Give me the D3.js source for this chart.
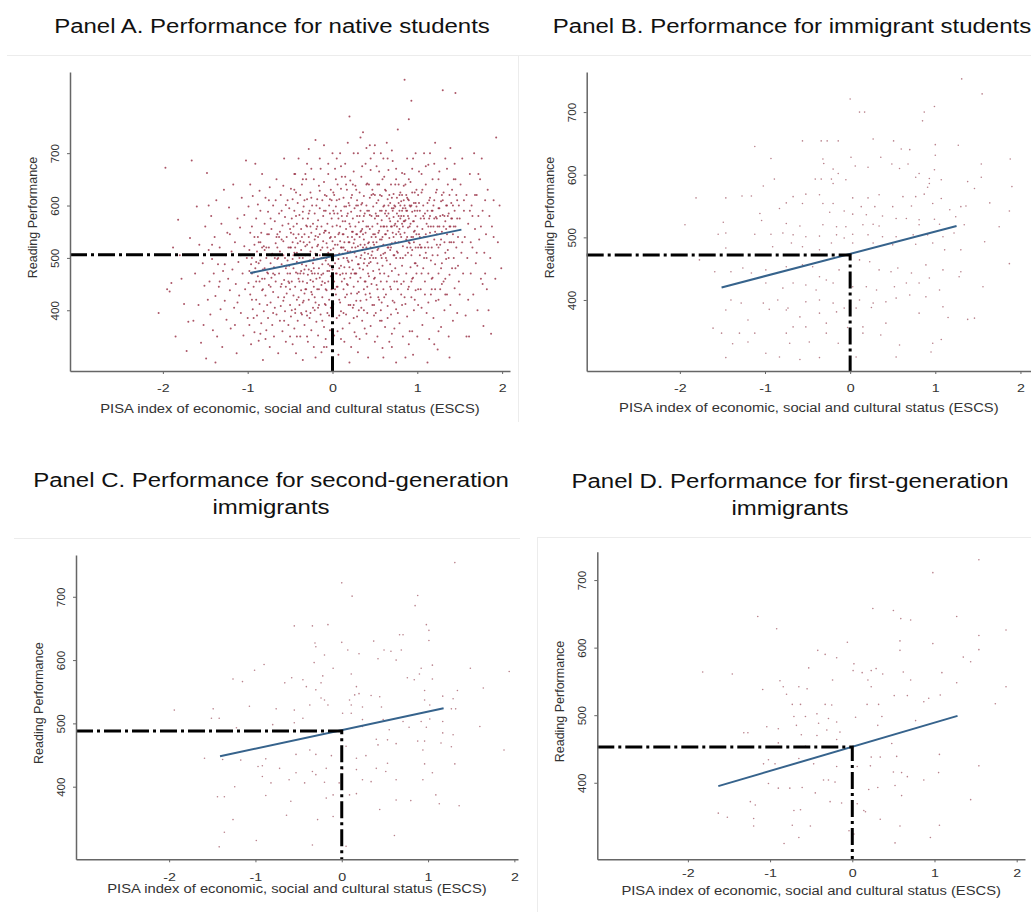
<!DOCTYPE html>
<html>
<head>
<meta charset="utf-8">
<script src="https://cdn.jsdelivr.net/npm/d3@7"></script>
<style>
body { margin: 0; background: #fff; }
svg { display: block; }
text { font-family: "Liberation Sans", Arial, sans-serif; }
</style>
</head>
<body>
<div id="chart"></div>
<script>
// ---- data ----
var panelTitles = [
    ["Panel A. Performance for native students"],
    ["Panel B. Performance for immigrant students"],
    ["Panel C. Performance for second-generation", "immigrants"],
    ["Panel D. Performance for first-generation", "immigrants"]
];
var xLabel = "PISA index of economic, social and cultural status (ESCS)";
var yLabel = "Reading Performance";
var xTicks = [-2, -1, 0, 1, 2];
var yTicks = [400, 500, 600, 700];
var meanScore = [506, 472, 488, 453];
var fitLines = [
    [[-0.97, 471], [1.52, 554]],
    [[-1.51, 420], [1.25, 518]],
    [[-1.41, 448], [1.18, 524]],
    [[-1.63, 395], [1.28, 499]]
];

var nativePts = [
[-2.05,395],[-1.97,672],[-1.95,440],[-1.92,436],[-1.9,452],[-1.88,520],[-1.85,350],[-1.82,573],[-1.8,505],[-1.78,460],[-1.75,412],[-1.72,322],[-1.7,378],[-1.68,538],[-1.66,686],[-1.64,380],[-1.62,470],[-1.6,598],[-1.58,410],[-1.57,525],[-1.55,338],[-1.53,490],[-1.52,372],[-1.51,447],[-1.5,560],
[-1.49,308],[-1.48,662],[-1.47,420],[-1.46,515],[-1.45,455],[-1.44,392],[-1.43,580],[-1.42,498],[-1.41,362],[-1.4,470],[-1.39,540],[-1.38,427],[-1.37,610],[-1.36,350],[-1.35,488],[-1.34,445],[-1.33,520],[-1.32,402],[-1.31,565],[-1.3,330],[-1.29,475],[-1.28,630],[-1.27,418],[-1.26,505],[-1.25,382],[-1.24,548],[-1.23,460],[-1.22,596],[-1.21,438],[-1.2,365],[-1.19,512],[-1.18,478],[-1.17,640],[-1.16,405],[-1.15,530],[-1.14,450],[-1.13,318],[-1.12,575],[-1.11,492],[-1.1,428],[-1.09,558],[-1.08,395],[-1.07,615],[-1.06,470],[-1.05,352],[-1.04,522],[-1.03,440],[-1.02,686],[-1.01,500],[-1.0,385],[-1.46,600],[-1.38,300],[-1.33,455],[-1.21,545],[-1.15,372],[-1.08,505],[-1.04,582],[-1.27,488],[-1.12,415],[-1.42,525],
[-0.99,452],[-0.99,598],[-0.98,372],[-0.98,515],[-0.97,640],[-0.97,430],[-0.96,488],[-0.96,335],[-0.95,560],[-0.95,470],[-0.94,402],[-0.94,618],[-0.93,505],[-0.93,445],[-0.92,358],[-0.92,540],[-0.91,680],[-0.91,480],[-0.9,420],[-0.9,575],[-0.89,390],[-0.89,512],[-0.88,465],[-0.88,602],[-0.87,342],[-0.87,530],[-0.86,455],[-0.86,412],[-0.85,590],[-0.85,495],[-0.84,375],[-0.84,548],[-0.83,438],[-0.83,660],[-0.82,478],[-0.82,305],[-0.81,522],[-0.81,398],[-0.8,565],[-0.8,460],[-0.79,428],[-0.79,615],[-0.78,500],[-0.78,362],[-0.77,545],[-0.77,472],[-0.76,385],[-0.76,588],[-0.75,448],[-0.75,520],[-0.74,330],[-0.74,635],[-0.73,490],[-0.73,415],[-0.72,555],[-0.72,462],[-0.71,372],[-0.71,508],[-0.7,600],[-0.7,435],[-0.69,482],[-0.69,350],[-0.68,570],[-0.68,405],[-0.67,528],[-0.67,455],[-0.66,650],[-0.66,392],[-0.65,498],[-0.65,545],[-0.64,425],[-0.64,318],[-0.63,585],[-0.63,470],[-0.62,512],[-0.62,380],[-0.61,620],[-0.61,445],[-0.6,535],[-0.6,488],[-0.59,360],[-0.59,562],[-0.58,418],[-0.58,505],[-0.57,690],[-0.57,458],[-0.56,398],[-0.56,578],[-0.55,480],[-0.55,340],[-0.54,540],[-0.54,432],[-0.53,610],[-0.53,495],[-0.52,372],[-0.52,520],[-0.51,452],[-0.51,595],[-0.5,410],[-0.5,555],
[-0.97,548],[-0.93,385],[-0.9,492],[-0.86,628],[-0.83,520],[-0.79,345],[-0.76,470],[-0.73,575],[-0.7,395],[-0.67,610],[-0.64,500],[-0.61,408],[-0.58,638],[-0.55,445],[-0.52,565],[-0.88,540],[-0.82,440],[-0.75,610],[-0.68,468],[-0.62,550],[-0.57,380],[-0.53,470],[-0.95,420],[-0.85,355],[-0.72,505],[-0.66,540],[-0.6,590],[-0.54,485],[-0.8,515],[-0.77,410],
[-0.5,470],[-0.49,632],[-0.49,388],[-0.49,520],[-0.48,455],[-0.48,575],[-0.47,335],[-0.47,498],[-0.47,612],[-0.46,428],[-0.46,545],[-0.46,480],[-0.45,365],[-0.45,590],[-0.45,510],[-0.44,445],[-0.44,660],[-0.44,402],[-0.43,538],[-0.43,472],[-0.43,318],[-0.42,565],[-0.42,492],[-0.42,420],[-0.41,605],[-0.41,380],[-0.41,528],[-0.4,460],[-0.4,545],[-0.4,690],[-0.39,410],[-0.39,500],[-0.39,582],[-0.38,350],[-0.38,470],[-0.38,620],[-0.37,438],[-0.37,555],[-0.37,515],[-0.36,392],[-0.36,488],[-0.36,640],[-0.35,455],[-0.35,575],[-0.35,305],[-0.34,530],[-0.34,418],[-0.34,598],[-0.33,478],[-0.33,372],[-0.33,545],[-0.32,505],[-0.32,660],[-0.32,440],[-0.31,562],[-0.31,398],[-0.31,485],[-0.3,612],[-0.3,452],[-0.3,525],[-0.29,340],[-0.29,575],[-0.29,468],[-0.28,420],[-0.28,540],[-0.28,708],[-0.27,495],[-0.27,385],[-0.27,590],[-0.26,458],[-0.26,625],[-0.26,512],[-0.25,362],[-0.25,548],[-0.25,475],[-0.24,430],[-0.24,600],[-0.24,520],[-0.23,405],[-0.23,565],[-0.23,490],[-0.22,650],[-0.22,445],[-0.22,330],[-0.21,535],[-0.21,470],[-0.21,585],[-0.2,415],[-0.2,508],[-0.2,725],[-0.19,460],[-0.19,555],[-0.19,378],[-0.18,612],[-0.18,498],[-0.18,440],[-0.17,572],[-0.17,352],[-0.17,525],[-0.16,480],[-0.16,638],[-0.16,410],[-0.15,545],[-0.15,462],[-0.15,595],[-0.14,392],[-0.14,515],[-0.14,670],[-0.13,448],[-0.13,560],[-0.13,320],[-0.12,488],[-0.12,610],[-0.12,425],[-0.11,532],[-0.11,470],[-0.11,580],[-0.1,368],[-0.1,505],[-0.1,645],[-0.09,452],[-0.09,552],[-0.09,412],[-0.08,590],[-0.08,495],[-0.08,345],[-0.07,528],[-0.07,438],[-0.07,618],[-0.06,475],[-0.06,565],[-0.06,395],[-0.05,510],[-0.05,680],[-0.05,455],[-0.04,548],[-0.04,420],[-0.04,600],[-0.03,485],[-0.03,362],[-0.03,538],[-0.02,465],[-0.02,630],[-0.02,405],[-0.01,575],[-0.01,500],[-0.01,440],
[-0.48,400],[-0.45,630],[-0.42,350],[-0.39,455],[-0.36,540],[-0.33,610],[-0.3,390],[-0.27,530],[-0.24,470],[-0.21,400],[-0.18,560],[-0.15,505],[-0.12,380],[-0.09,620],[-0.06,520],[-0.03,585],[-0.46,560],[-0.4,505],[-0.34,470],[-0.28,585],[-0.22,500],[-0.16,440],[-0.1,548],[-0.04,475],[-0.44,520],[-0.37,395],[-0.31,650],[-0.25,435],[-0.19,600],[-0.13,500],[-0.07,330],[-0.02,540],[-0.5,520],[-0.43,580],[-0.35,500],[-0.26,560],[-0.17,470],[-0.08,440],[-0.01,610],
[0.0,478],[0.0,560],[0.01,412],[0.01,625],[0.01,518],[0.02,455],[0.02,585],[0.02,352],[0.03,540],[0.03,490],[0.03,670],[0.04,430],[0.04,598],[0.04,505],[0.05,385],[0.05,562],[0.05,470],[0.06,640],[0.06,525],[0.06,445],[0.07,575],[0.07,315],[0.07,498],[0.08,612],[0.08,420],[0.08,548],[0.09,468],[0.09,700],[0.09,532],[0.1,398],[0.1,590],[0.1,485],[0.11,455],[0.11,655],[0.11,520],[0.12,365],[0.12,570],[0.12,508],[0.13,440],[0.13,615],[0.13,545],[0.14,482],[0.14,340],[0.14,598],[0.15,515],[0.15,425],[0.15,680],[0.16,555],[0.16,470],[0.16,392],[0.17,630],[0.17,500],[0.17,580],[0.18,448],[0.18,540],[0.18,720],[0.19,410],[0.19,605],[0.19,492],[0.2,565],[0.2,375],[0.2,530],[0.21,462],[0.21,648],[0.21,512],[0.22,588],[0.22,432],[0.22,330],[0.23,550],[0.23,495],[0.23,620],[0.24,405],[0.24,575],[0.24,478],[0.25,665],[0.25,528],[0.25,445],[0.26,595],[0.26,358],[0.26,510],[0.27,560],[0.27,470],[0.27,638],[0.28,418],[0.28,545],[0.28,502],[0.29,610],[0.29,388],[0.29,580],[0.3,455],[0.3,700],[0.3,522],[0.31,568],[0.31,435],[0.31,488],[0.32,625],[0.32,345],[0.32,540],[0.33,500],[0.33,590],[0.33,462],[0.34,405],[0.34,655],[0.34,552],[0.35,515],[0.35,380],[0.35,605],[0.36,478],[0.36,570],[0.36,740],[0.37,440],[0.37,535],[0.37,618],[0.38,498],[0.38,365],[0.38,585],[0.39,455],[0.39,548],[0.39,680],[0.4,520],[0.4,420],[0.4,600],[0.41,485],[0.41,642],[0.41,395],[0.42,560],[0.42,508],[0.42,310],[0.43,590],[0.43,465],[0.43,530],[0.44,432],[0.44,615],[0.44,555],[0.45,492],[0.45,370],[0.45,668],[0.46,540],[0.46,450],[0.46,580],[0.47,512],[0.47,410],[0.47,630],[0.48,475],[0.48,598],[0.48,545],[0.49,390],[0.49,525],[0.49,700],
[0.02,505],[0.05,610],[0.08,390],[0.11,580],[0.14,530],[0.17,450],[0.2,600],[0.23,520],[0.26,470],[0.29,545],[0.32,480],[0.35,555],[0.38,525],[0.41,590],[0.44,500],[0.47,560],[0.03,440],[0.07,545],[0.12,470],[0.16,640],[0.21,560],[0.25,410],[0.3,600],[0.34,505],[0.39,430],[0.43,640],[0.48,500],[0.04,650],[0.09,560],[0.13,500],[0.18,585],[0.22,470],[0.27,520],[0.31,400],[0.36,520],[0.4,560],[0.45,520],[0.49,460],[0.06,360],[0.15,570],[0.24,640],[0.33,550],[0.42,470],[0.1,520],[0.19,530],[0.28,600],[0.37,580],[0.46,620],[0.01,590],[0.28,350],[0.37,490],[0.2,770],[0.44,715],[0.33,730],
[0.5,545],[0.5,462],[0.5,620],[0.51,500],[0.51,395],[0.51,585],[0.52,530],[0.52,675],[0.52,448],[0.53,565],[0.53,490],[0.53,350],[0.54,610],[0.54,518],[0.54,425],[0.55,552],[0.55,640],[0.55,478],[0.56,590],[0.56,380],[0.56,535],[0.57,505],[0.57,700],[0.57,455],[0.58,572],[0.58,415],[0.58,618],[0.59,540],[0.59,485],[0.59,328],[0.6,598],[0.6,525],[0.6,440],[0.61,655],[0.61,560],[0.61,470],[0.62,510],[0.62,585],[0.62,368],[0.63,545],[0.63,628],[0.63,430],[0.64,495],[0.64,580],[0.64,720],[0.65,552],[0.65,408],[0.65,612],[0.66,520],[0.66,465],[0.66,668],[0.67,575],[0.67,340],[0.67,538],[0.68,605],[0.68,488],[0.68,445],[0.69,560],[0.69,640],[0.69,392],[0.7,528],[0.7,595],[0.7,475],[0.71,685],[0.71,548],[0.71,418],[0.72,578],[0.72,505],[0.72,622],[0.73,455],[0.73,562],[0.73,365],[0.74,598],[0.74,530],[0.74,480],[0.75,650],[0.75,545],[0.75,402],[0.76,585],[0.76,512],[0.76,615],[0.77,440],[0.77,570],[0.77,745],[0.78,530],[0.78,605],[0.78,468],[0.79,590],[0.79,375],[0.79,555],[0.8,625],[0.8,500],[0.8,575],[0.81,430],[0.81,608],[0.81,540],[0.82,565],[0.82,662],[0.82,485],[0.83,595],[0.83,350],[0.83,522],[0.84,580],[0.84,455],[0.84,638],[0.85,548],[0.85,840],[0.85,600],[0.86,505],[0.86,412],[0.86,572],[0.87,620],[0.87,535],[0.87,470],[0.88,590],[0.88,690],[0.88,388],[0.89,558],[0.89,510],[0.89,612],[0.9,445],[0.9,575],[0.9,765],[0.91,528],[0.91,600],[0.91,360],[0.92,565],[0.92,482],[0.92,645],[0.93,800],[0.93,540],[0.93,425],[0.94,588],[0.94,515],[0.94,670],[0.95,462],[0.95,570],[0.95,315],[0.96,605],[0.96,530],[0.96,400],[0.97,552],[0.97,625],[0.97,490],[0.98,580],[0.98,438],[0.98,700],[0.99,545],[0.99,598],[0.99,470],
[0.52,580],[0.55,420],[0.58,500],[0.61,600],[0.64,455],[0.67,620],[0.7,560],[0.73,600],[0.76,455],[0.79,620],[0.82,590],[0.85,570],[0.88,540],[0.91,560],[0.94,460],[0.97,590],[0.53,640],[0.57,560],[0.62,545],[0.66,585],[0.71,590],[0.75,500],[0.8,545],[0.84,610],[0.89,580],[0.93,600],[0.98,520],[0.51,540],[0.56,470],[0.6,560],[0.65,520],[0.69,520],[0.74,565],[0.78,640],[0.83,560],[0.87,590],[0.92,520],[0.96,570],[0.54,580],[0.63,590],[0.72,540],[0.81,580],[0.9,610],[0.99,630],[0.59,650],[0.68,570],[0.77,510],[0.86,640],[0.95,540],[0.58,380],[0.7,330],[0.82,410],[0.94,360],[0.75,300],[0.86,310],
[1.0,560],[1.0,485],[1.01,620],[1.01,410],[1.02,545],[1.02,665],[1.03,505],[1.03,590],[1.04,440],[1.04,575],[1.05,625],[1.05,520],[1.06,372],[1.06,555],[1.07,600],[1.07,480],[1.08,700],[1.08,540],[1.09,455],[1.09,585],[1.1,510],[1.1,640],[1.11,565],[1.11,395],[1.12,605],[1.12,530],[1.13,470],[1.13,678],[1.14,575],[1.14,345],[1.15,548],[1.15,615],[1.16,495],[1.16,430],[1.17,590],[1.17,520],[1.18,650],[1.18,462],[1.19,560],[1.19,385],[1.2,610],[1.2,535],[1.21,720],[1.21,488],[1.22,578],[1.22,418],[1.23,545],[1.23,630],[1.24,505],[1.24,325],[1.25,595],[1.25,470],[1.26,560],[1.26,665],[1.27,525],[1.27,440],[1.28,608],[1.28,368],[1.29,550],[1.29,490],[1.3,820],[1.3,582],[1.31,455],[1.31,625],[1.32,530],[1.32,400],[1.33,570],[1.33,690],[1.34,498],[1.34,600],[1.35,430],[1.35,545],[1.36,640],[1.36,515],[1.37,350],[1.37,585],[1.38,468],[1.38,560],[1.39,710],[1.39,410],[1.4,530],[1.4,605],[1.41,480],[1.41,575],[1.42,380],[1.42,545],[1.43,650],[1.43,500],[1.44,590],[1.44,442],[1.45,815],[1.45,560],[1.46,520],[1.46,620],[1.47,395],[1.47,575],[1.48,485],[1.48,540],[1.49,600],[1.49,455],
[1.03,540],[1.07,580],[1.11,500],[1.15,580],[1.19,600],[1.23,575],[1.27,580],[1.31,560],[1.35,600],[1.39,560],[1.43,530],[1.47,610],[1.05,470],[1.13,560],[1.21,550],[1.29,620],[1.37,500],[1.45,480],[1.09,520],[1.17,440],[1.25,520],[1.33,460],[1.41,630],[1.01,520],[1.25,360],[1.12,300],[1.38,310],[1.2,680],[1.44,680],
[1.5,575],[1.5,430],[1.51,640],[1.52,510],[1.53,690],[1.54,470],[1.55,590],[1.56,540],[1.57,390],[1.58,620],[1.59,500],[1.6,565],[1.61,350],[1.62,660],[1.63,470],[1.64,600],[1.65,520],[1.66,430],[1.67,700],[1.68,555],[1.69,490],[1.7,620],[1.71,400],[1.72,580],[1.73,535],[1.74,650],[1.75,460],[1.76,690],[1.77,590],[1.78,370],[1.79,510],[1.8,610],[1.81,545],[1.82,440],[1.83,630],[1.85,580],[1.86,500],[1.87,355],[1.88,560],[1.9,610],[1.92,460],[1.93,730],[1.95,530],[1.97,600],[1.99,480],[1.55,610],[1.6,420],[1.65,580],[1.7,510],[1.75,560],[1.8,470],[1.58,350],[1.72,660],[1.63,530],[1.84,400],[1.68,620],[1.77,450],[1.9,540],[1.53,530],[1.62,590],
[-0.58,532],[-0.55,601],[-0.52,455],[-0.49,548],[-0.46,505],[-0.43,625],[-0.41,470],[-0.38,532],[-0.35,588],[-0.33,432],[-0.3,560],[-0.28,478],[-0.25,615],[-0.23,455],[-0.2,542],[-0.18,522],[-0.15,628],[-0.13,468],[-0.1,590],[-0.08,552],[-0.05,488],[-0.03,612],[0.0,532],[0.02,620],[0.04,470],[0.06,585],[0.08,508],[0.1,632],[0.12,545],[0.14,460],[0.16,598],[0.18,512],[0.2,482],[0.22,615],[0.24,550],[0.26,535],[0.28,630],[0.3,488],[0.32,580],[0.34,602],[0.36,545],[0.38,455],[0.4,640],[0.42,528],[0.44,582],[0.46,505],[0.48,622],[0.5,575],[0.52,605],[0.54,548],[0.56,620],[0.58,590],[0.6,508],[0.62,630],[0.64,560],[0.66,600],[0.68,525],[0.7,615],[0.72,595],[0.74,640],[0.76,560],[0.78,580],[0.8,600],[0.82,620],[0.84,570],[0.86,595],[0.88,615],[0.9,530],[0.92,598],[0.94,625],[0.96,550],[0.98,605],[1.0,590],[1.02,605],[1.04,520],[1.06,630],[1.08,575],[1.1,545],[1.12,590],[1.14,610],[1.16,560],[1.18,590],[1.2,575],[1.22,625],[1.24,560],[1.26,595],[1.28,535],[1.3,610],[1.32,580],[1.34,555],[1.36,580],[1.38,620],[1.4,575],[1.42,600],
[-0.57,425],[-0.5,440],[-0.44,395],[-0.4,425],[-0.35,415],[-0.31,440],[-0.26,395],[-0.21,425],[-0.17,405],[-0.12,455],[-0.08,410],[-0.04,390],[0.0,430],[0.05,445],[0.09,415],[0.13,395],[0.17,430],[0.21,410],[0.25,385],[0.29,432],[0.33,418],[0.37,400],[0.41,445],[0.45,425],[0.49,410],[0.53,440],[0.57,400],[0.61,425],[0.65,385],[0.69,440],[0.73,415],[0.77,395],[0.81,450],[0.85,425],[0.89,440],[0.93,455],[0.97,420],[1.01,440],[1.05,405],[1.09,430],[1.13,415],[1.17,460],[1.21,440],[1.25,420],[1.29,450],[1.33,430],
[-0.56,500],[-0.51,485],[-0.47,530],[-0.42,510],[-0.37,475],[-0.32,522],[-0.27,505],[-0.22,480],[-0.17,540],[-0.12,520],[-0.07,500],[-0.02,515],[0.03,525],[0.08,480],[0.13,520],[0.18,495],[0.23,540],[0.28,470],[0.33,525],[0.38,510],[0.43,490],[0.48,530],[0.53,515],[0.58,535],[0.63,500],[0.68,515],[0.73,505],[0.78,550],[0.83,500],[0.88,520],[0.93,505],[0.98,490],[1.03,525],[1.08,500],[1.13,520],[1.18,505],[1.23,525],[1.28,480],[1.33,510],[1.38,530],[1.43,560],
[-0.45,660],[-0.35,650],[-0.25,670],[-0.15,690],[-0.05,660],[0.05,690],[0.15,655],[0.25,700],[0.35,675],[0.45,690],[0.55,665],[0.65,690],[0.75,670],[0.85,660],[0.95,690],[1.05,660],[1.15,700],[1.25,650],[1.35,670],[1.45,650],[-0.3,680],[0.1,675],[0.5,715],[0.7,705],[0.9,650],[1.1,675],[0.4,710],[0.6,690],[0.0,700],[-0.1,715],
[-0.95,500],[-0.9,455],[-0.85,530],[-0.8,480],[-0.75,545],[-0.7,470],[-0.65,520],[-0.6,450],[-0.98,475],[-0.92,525],[-0.87,490],[-0.83,460],[-0.78,520],[-0.73,445],[-0.68,500],[-0.63,540],
[-0.3,350],[-0.1,330],[0.1,345],[0.3,320],[0.5,340],[0.7,355],[0.9,335],[-0.5,350],[0.2,300],[0.6,310],[-0.2,310],[0.4,355],[1.0,350],[1.2,335]
];

var immigrantPts = [
[1.31,753],[1.55,729],[0.00,721],[0.99,709],[0.87,700],[0.11,700],[0.17,700],[0.85,686],[-0.56,654],[-0.34,654],[-0.27,654],[-0.14,654],[0.27,657],[0.51,654],[1.00,648],[1.27,647],[-1.12,645],[0.60,641],[0.70,640],[-0.93,626],[-0.32,625],[-0.31,618],[0.01,628],[0.36,628],[1.00,631],[1.88,625],[0.06,614],[0.21,612],[0.49,617],[0.58,610],[0.68,617],[1.54,617],[-0.20,609],[-0.14,602],[0.99,608],[0.81,602],[-0.89,593],[-0.41,593],[-0.34,593],[-0.22,593],[-0.05,592],[0.77,596],[0.93,594],[1.07,592],[1.54,596],[1.38,589],[-1.02,582],[-0.20,586],[0.93,586],[0.91,580],[1.46,578],[1.90,581],
[-1.81,563],[-1.46,563],[-1.27,566],[-1.16,566],[-0.67,565],[-0.52,569],[-0.36,568],[0.03,563],[0.21,563],[0.34,568],[0.62,565],[0.77,565],[0.87,569],[1.07,562],[-0.75,555],[-0.56,554],[-0.32,554],[-0.20,554],[0.13,549],[0.29,549],[0.50,549],[0.72,550],[0.97,554],[1.30,549],[1.64,555],[-1.06,538],[-0.83,546],[-0.24,540],[-0.07,542],[0.03,537],[0.19,536],[0.38,534],[0.54,530],[0.66,530],[0.81,528],[0.99,529],[1.17,544],[1.24,533],[1.36,550],[1.87,542],
[-1.94,520],[-1.49,524],[-1.04,527],[-0.75,522],[-0.59,518],[-0.32,520],[-0.16,517],[-0.05,517],[0.15,520],[0.27,521],[0.34,518],[0.81,520],[1.05,521],[1.34,520],[1.75,517],[-1.55,505],[-1.46,507],[-1.12,505],[-0.93,505],[-0.79,507],[-0.67,504],[-0.52,501],[-0.36,502],[-0.16,504],[-0.07,499],[0.03,505],[0.21,504],[0.38,501],[0.54,501],[0.74,504],[0.91,504],[1.09,501],[1.22,507],[-1.46,483],[-0.91,485],[-0.69,491],[-0.56,485],[-0.36,480],[-0.22,491],[0.03,491],[0.27,491],[0.50,488],[0.77,489],[0.97,491],[1.11,480],[1.30,480],[1.58,493],
[-1.77,464],[-1.59,445],[-1.40,445],[-1.26,451],[-1.16,443],[-0.99,448],[-0.75,453],[-0.56,456],[-0.44,453],[-0.36,437],[-0.28,432],[-0.13,448],[0.11,464],[0.23,461],[0.34,448],[0.48,445],[0.56,451],[0.72,443],[0.89,456],[1.09,448],[1.30,445],[1.87,458],[-0.99,427],[-0.79,419],[-0.67,427],[-0.52,424],[-0.40,416],[-0.20,427],[0.03,421],[0.19,421],[0.31,416],[0.52,421],[0.66,427],[0.81,427],[0.93,435],[1.05,416],[1.28,437],[1.56,421],
[-1.40,400],[-1.28,395],[-1.02,395],[-0.85,400],[-0.73,387],[-0.52,397],[-0.36,400],[-0.20,395],[-0.07,387],[0.11,400],[0.27,395],[0.42,397],[0.54,403],[0.70,408],[0.89,405],[1.09,389],[-1.46,384],[-0.95,385],[-0.75,384],[-0.59,373],[-0.36,379],[-0.16,381],[0.07,387],[0.25,388],[0.81,379],[-1.20,368],[-0.67,357],[-0.52,357],[-0.28,363],[-0.03,356],[0.15,357],[0.42,363],[1.15,372],[1.38,369],[1.46,371],
[-1.61,355],[-1.51,347],[-1.30,347],[-1.12,347],[-0.75,347],[-0.28,347],[0.15,347],[0.36,344],[-1.38,330],[-1.20,333],[-0.71,331],[-0.48,333],[-0.14,331],[0.58,328],[0.97,331],[1.07,337],[-1.46,308],[-0.99,315],[-0.83,309],[-0.59,305],[-0.36,308],[0.07,309],[0.54,309],[0.95,317]
];

var secondGenPts = [
[1.31,754],[0.00,722],[0.12,701],[0.88,702],[0.85,686],[-0.55,654],[-0.34,654],[-0.16,656],[0.98,656],[1.01,647],[0.67,640],[0.71,640],[-0.31,627],[-0.30,621],[0.00,628],[0.37,630],[1.01,631],[0.07,616],[0.20,610],[0.49,616],[0.57,614],[0.69,616],[-0.20,608],[0.42,602],[0.63,600],[-0.32,596],[-0.90,593],[-0.10,587],[0.92,587],[1.05,592],[1.49,587],[1.94,582],[-1.01,584],
[-0.22,575],[0.11,578],[0.76,572],[0.90,578],[1.05,570],[-1.26,570],[-1.15,566],[-0.66,564],[-0.58,572],[-0.45,569],[-0.30,553],[-0.41,558],[-0.24,564],[0.84,569],[1.64,556],[1.34,552],[0.96,552],[0.17,558],[0.09,537],[0.15,545],[0.20,547],[0.34,544],[0.44,542],[-0.24,540],[-0.20,537],[1.17,543],[1.29,539],[0.96,537],
[-1.07,527],[-0.76,523],[-0.55,521],[-0.37,529],[-0.16,529],[0.11,529],[0.24,526],[0.46,526],[1.02,529],[-1.94,521],[-1.49,523],[1.27,523],[1.32,523],[-1.51,508],[-1.42,508],[-0.45,508],[0.01,516],[0.11,516],[0.24,506],[0.48,506],[0.71,503],[0.92,503],[1.02,507],[1.17,503],[1.60,495],[-1.22,493],[-0.80,498],[-0.55,501],[0.24,495],[0.55,490],[0.78,494],[0.98,494],[1.17,485],[1.29,482],
[0.53,474],[0.40,475],[0.63,468],[0.88,472],[0.96,472],[1.15,469],[-1.59,445],[-1.38,443],[-1.17,442],[-0.88,444],[-0.53,451],[-0.37,458],[-0.30,451],[-0.12,449],[0.05,464],[0.17,445],[0.28,449],[0.42,466],[0.53,437],[0.94,458],[1.27,463],[1.88,458],[-0.97,432],[-0.92,433],[-0.72,429],[-0.53,422],[-0.34,424],[-0.18,429],[0.01,428],[0.17,427],[0.40,429],[0.51,424],[0.96,436],[1.31,436],
[-1.24,400],[-0.92,416],[-0.82,406],[-0.61,411],[-0.43,406],[-0.30,419],[-0.20,407],[-0.03,406],[0.24,411],[0.34,408],[0.63,411],[0.94,411],[1.05,422],[-1.44,384],[-1.36,384],[-0.88,386],[-0.59,377],[-0.18,382],[-0.10,387],[0.09,387],[0.17,389],[0.44,364],[0.63,379],[0.80,378],[1.09,387],[1.13,373],[1.36,370],
[-1.26,348],[-0.64,355],[-0.28,348],[-0.10,353],[-1.36,328],[-0.99,315],[-0.34,308],[0.61,323],[-1.42,305],[0.05,306]
];

var firstGenPts = [
[1.54,730],[0.98,711],[0.25,658],[0.50,655],[0.59,643],[0.71,641],[-1.15,646],[1.27,646],[-0.92,628],[1.87,626],[-0.06,608],[0.58,610],[0.98,606],[1.54,618],[-0.42,596],[-0.33,590],[-0.19,585],[0.58,596],[1.54,597],[1.35,586],[1.44,579],
[-0.53,570],[0.02,576],[0.01,566],[0.12,563],[0.23,566],[0.29,569],[0.37,561],[0.62,564],[1.09,563],[-1.82,564],[-1.46,561],[-0.88,551],[-0.24,552],[0.19,552],[0.23,542],[0.71,552],[1.27,548],[1.87,542],[-1.09,538],[-0.84,542],[-0.80,531],[-0.65,542],[-0.55,539],[0.51,529],[0.67,529],[0.87,520],[0.93,525],[1.07,530],
[-0.73,516],[-0.63,516],[-0.33,516],[-0.25,515],[0.18,516],[0.32,516],[1.74,517],[-0.71,498],[-0.57,498],[-0.43,502],[-0.41,488],[-0.29,495],[-0.19,490],[0.04,497],[0.36,498],[-1.04,483],[-0.90,480],[-0.68,485],[-0.31,478],[-0.15,475],[0.31,485],[0.77,492],[-1.32,474],[-1.27,474],[-0.62,471],[-0.43,470],[-0.19,464],[0.48,458],[-0.90,459],[-0.57,454],
[-1.02,434],[0.23,438],[0.34,438],[0.54,439],[1.06,442],[1.54,425],[-1.08,428],[-0.94,428],[-0.65,436],[-0.47,428],[-0.19,424],[0.06,424],[0.22,425],[0.50,416],[0.60,415],[0.67,409],[0.87,404],[1.05,415],
[-1.02,399],[-0.90,392],[-0.76,392],[-0.61,393],[-0.45,385],[-0.35,404],[-0.29,404],[-0.21,401],[0.20,390],[0.31,393],[0.52,396],[0.60,381],[-1.24,372],[-1.18,367],[-0.27,372],[-0.13,370],[0.06,369],[0.14,359],[1.44,375],
[-1.63,355],[-1.52,349],[-1.20,347],[-0.71,359],[-0.63,360],[0.16,357],[0.34,346],[1.06,337],[-1.20,336],[-0.73,337],[-0.51,336],[0.58,336],[-0.04,329],[0.02,324],[-0.65,319],[0.95,319],[-0.83,310],[0.52,311]
];

var panelPts = [nativePts, immigrantPts, secondGenPts, firstGenPts];

// ---- layout ----
var width = 1031, height = 912;
var stretch = 1.23;   // the source picture is stretched sideways
var layout = [
    {left: 70,    right: 510,  top: 72,    bottom: 371,   xDom: [-3.095, 2.093], yDom: [284, 855],   titleX: 272, titleY: [33],          tickPad: 10, xTitleDy: 42,   dot: 1.0},
    {left: 586.7, right: 1031, top: 72,    bottom: 371,   xDom: [-3.094, 2.124], yDom: [286.6, 764], titleX: 792, titleY: [33],          tickPad: 10, xTitleDy: 41,   dot: 0.8},
    {left: 76,    right: 518,  top: 555,   bottom: 859.3, xDom: [-3.079, 2.042], yDom: [285.3, 766], titleX: 271, titleY: [486.7, 514], tickPad: 10, xTitleDy: 34,   dot: 0.8},
    {left: 597.3, right: 1025, top: 551.7, bottom: 859.3, xDom: [-3.102, 2.101], yDom: [286.7, 742], titleX: 790, titleY: [488, 515],   tickPad: 6,  xTitleDy: 36,   dot: 0.8}
];

var svg = d3.select("#chart").append("svg")
    .attr("width", width)
    .attr("height", height);

svg.append("rect").attr("width", width).attr("height", height).attr("fill", "#fff");

// faint frame lines around the pasted panels
var frame = svg.append("g").attr("stroke", "#ececec").attr("stroke-width", 1).attr("fill", "none");
frame.append("line").attr("x1", 7).attr("x2", 1031).attr("y1", 55.5).attr("y2", 55.5);
frame.append("line").attr("x1", 518.5).attr("x2", 518.5).attr("y1", 55).attr("y2", 422);
frame.append("line").attr("x1", 14).attr("x2", 520).attr("y1", 538.5).attr("y2", 538.5);
frame.append("line").attr("x1", 537).attr("x2", 1031).attr("y1", 537.5).attr("y2", 537.5);
frame.append("line").attr("x1", 537.5).attr("x2", 537.5).attr("y1", 537).attr("y2", 912);

layout.forEach(function(L, i) {
    var g = svg.append("g");

    var x = d3.scaleLinear().domain(L.xDom).range([L.left, L.right]);
    var y = d3.scaleLinear().domain(L.yDom).range([L.bottom, L.top]);

    // title
    var t = g.append("text")
        .attr("transform", `translate(${L.titleX},0) scale(${stretch},1)`)
        .attr("text-anchor", "middle")
        .attr("font-size", "19.5px")
        .attr("fill", "#111");
    panelTitles[i].forEach(function(line, k) {
        t.append("tspan").attr("x", 0).attr("y", L.titleY[k]).text(line);
    });

    // points
    g.append("g").selectAll("circle")
        .data(panelPts[i])
        .enter()
        .append("circle")
        .attr("cx", d => x(d[0]))
        .attr("cy", d => y(d[1]))
        .attr("r", L.dot)
        .attr("fill", i == 0 ? "#962b40" : "#a25866")
        .attr("opacity", i == 0 ? 0.8 : 0.75);

    // fitted line
    g.append("line")
        .attr("x1", x(fitLines[i][0][0])).attr("y1", y(fitLines[i][0][1]))
        .attr("x2", x(fitLines[i][1][0])).attr("y2", y(fitLines[i][1][1]))
        .attr("stroke", "#36638c")
        .attr("stroke-width", 2);

    // mean reference lines (dash-dot)
    var m = meanScore[i];
    g.append("path")
        .attr("d", `M${L.left},${y(m)}H${x(0)}V${L.bottom}`)
        .attr("fill", "none")
        .attr("stroke", "#000")
        .attr("stroke-width", 3)
        .attr("stroke-dasharray", "17,4,3,4");

    // axes
    var xAxis = d3.axisBottom(x).tickValues(xTicks).tickSize(3).tickSizeOuter(0).tickPadding(L.tickPad);
    var yAxis = d3.axisLeft(y).tickValues(yTicks).tickSize(3).tickSizeOuter(0);

    var xg = g.append("g").attr("transform", `translate(0,${L.bottom})`).call(xAxis);
    var yg = g.append("g").attr("transform", `translate(${L.left},0)`).call(yAxis);

    [xg, yg].forEach(function(a) {
        a.select(".domain").attr("stroke", "#666").attr("stroke-width", 1.5);
        a.selectAll(".tick line").attr("stroke", "#666");
        a.selectAll("text").attr("fill", "#333").attr("font-size", "11.6px")
            .attr("font-family", "Liberation Sans, Arial, sans-serif");
    });
    xg.selectAll(".tick text")
        .text(d => d < 0 ? "-" + Math.abs(d) : d)
        .attr("transform", `scale(${stretch},1)`);

    yg.selectAll(".tick text")
        .attr("x", null).attr("dy", null)
        .attr("text-anchor", "middle")
        .attr("transform", "translate(-11,0) rotate(-90)");

    // axis titles
    g.append("text")
        .attr("transform", `translate(${(L.left + L.right) / 2},${L.bottom + L.xTitleDy}) scale(${stretch},1)`)
        .attr("text-anchor", "middle")
        .attr("font-size", "12px")
        .attr("fill", "#333")
        .text(xLabel);

    g.append("text")
        .attr("transform", `translate(${L.left - 33},${(L.top + L.bottom) / 2 - 4}) rotate(-90)`)
        .attr("text-anchor", "middle")
        .attr("font-size", "12.5px")
        .attr("fill", "#333")
        .text(yLabel);
});
</script>
</body>
</html>
